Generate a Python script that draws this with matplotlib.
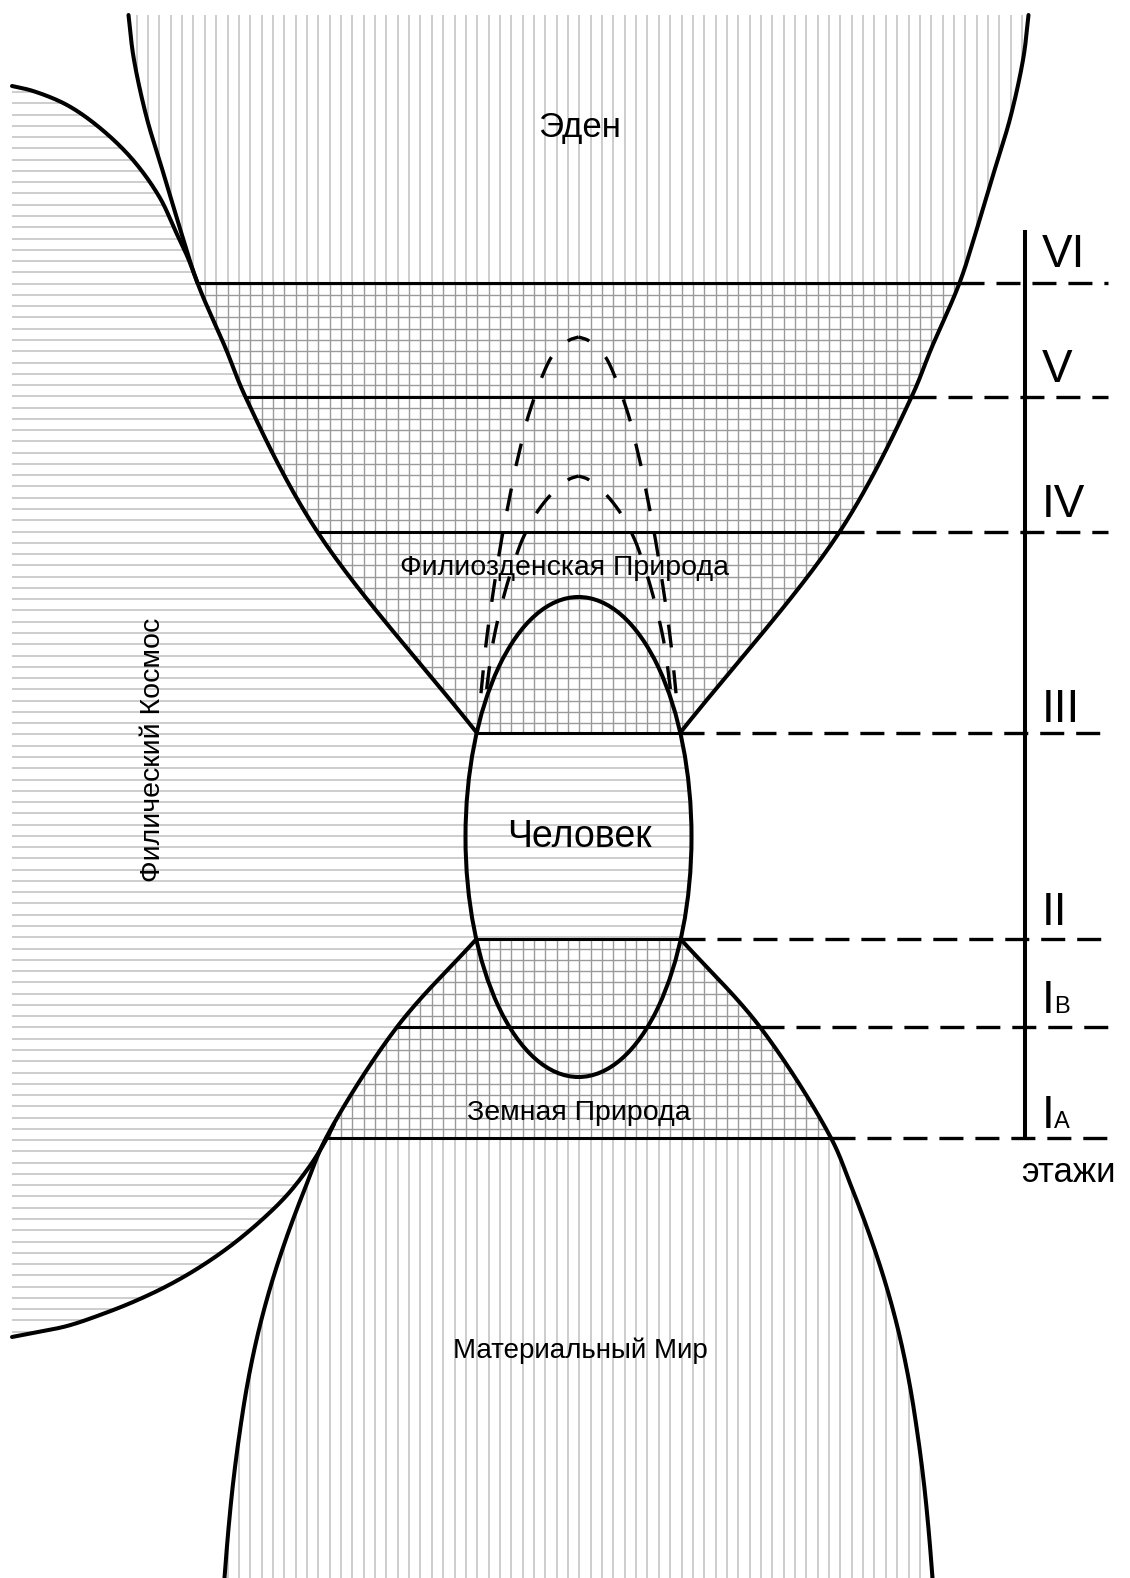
import numpy as np
import matplotlib
matplotlib.use("Agg")
import matplotlib.pyplot as plt
from matplotlib.patches import Polygon, Ellipse
from matplotlib.collections import LineCollection

plt.rcParams['font.family'] = ['Liberation Sans', 'DejaVu Sans']
plt.rcParams['lines.scale_dashes'] = False

W, H = 1130, 1578
CX = 578.5  # ось симметрии схемы

# Эден (верхняя воронка): высота и полуширина от оси
eden_y = [15, 57, 117, 167, 227, 283, 348, 397, 532, 733]
eden_w = [450, 445, 432, 417, 399, 381, 353, 333, 261, 101.5]

# Земная природа + Материальный мир (нижний колокол)
low_y = [939, 1027, 1138, 1183, 1233, 1283, 1333, 1383, 1433, 1483, 1533, 1578]
low_w = [102, 181.5, 252.5, 271.4, 290.4, 306.9, 320.4, 330.9, 338.9, 345.4, 350.4, 354]

# Филический Космос: верхняя и нижняя дуги
cos_top_x = [12, 33, 67, 100, 133, 160, 175, 188, 197.5]
cos_top_y = [86, 91, 105, 128, 160, 198, 230, 258, 283]
cos_bot_x = [12, 33, 67, 100, 133, 167, 200, 233, 265, 288, 307, 319, 327, 334]
cos_bot_y = [1337, 1333, 1326, 1315, 1302, 1286, 1267, 1244, 1217, 1194, 1170, 1152, 1138, 1124]

# Человек (эллипс)
ell_cy, ell_a, ell_b = 837, 113, 240

# пунктирные арки
arch_out_y = [337, 340, 347, 357, 378, 400, 422, 447, 468, 493, 513, 540, 558, 590, 640, 698]
arch_out_h = [0, 9, 18, 27, 37, 45, 52, 58, 63, 68, 72, 77, 80, 85, 92, 98]
arch_in_y = [476, 479, 486, 495, 513, 537, 555, 590, 640, 698]
arch_in_h = [0, 9, 18, 28, 42, 55, 62, 73, 85, 93]

# этажи
level_y = [283, 397, 532, 733, 939, 1027, 1138]
level_names = ['VI', 'V', 'IV', 'III', 'II', 'I', 'I']
level_subs = ['', '', '', '', '', 'B', 'A']
label_base = [267, 382, 517, 722, 925, 1013, 1128]


def spline(px, py, n=30):
    # центростремительный Катмулл-Ром через точки
    p = np.column_stack([px, py]).astype(float)
    p = np.vstack([2 * p[0] - p[1], p, 2 * p[-1] - p[-2]])
    out = []
    for i in range(1, len(p) - 2):
        p0, p1, p2, p3 = p[i - 1], p[i], p[i + 1], p[i + 2]
        t0 = 0.0
        t1 = t0 + np.linalg.norm(p1 - p0) ** 0.5
        t2 = t1 + np.linalg.norm(p2 - p1) ** 0.5
        t3 = t2 + np.linalg.norm(p3 - p2) ** 0.5
        t = np.linspace(t1, t2, n, endpoint=False)[:, None]
        a1 = (t1 - t) / (t1 - t0) * p0 + (t - t0) / (t1 - t0) * p1
        a2 = (t2 - t) / (t2 - t1) * p1 + (t - t1) / (t2 - t1) * p2
        a3 = (t3 - t) / (t3 - t2) * p2 + (t - t2) / (t3 - t2) * p3
        b1 = (t2 - t) / (t2 - t0) * a1 + (t - t0) / (t2 - t0) * a2
        b2 = (t3 - t) / (t3 - t1) * a2 + (t - t1) / (t3 - t1) * a3
        out.append((t2 - t) / (t2 - t1) * b1 + (t - t1) / (t2 - t1) * b2)
    out.append(p[-2][None])
    return np.vstack(out)


def sides(ys, ws):
    left = spline(CX - np.array(ws), ys)
    right = spline(CX + np.array(ws), ys)
    return left, right


def band(left, right, y0, y1):
    m = (left[:, 1] >= y0 - 1e-6) & (left[:, 1] <= y1 + 1e-6)
    return np.vstack([left[m], right[m][::-1]])


def ellipse_side(y0, y1, sign):
    yy = np.linspace(y0, y1, 80)
    xx = CX + sign * ell_a * np.sqrt(np.clip(1 - ((yy - ell_cy) / ell_b) ** 2, 0, 1))
    return np.column_stack([xx, yy])


def hatch(ax, poly, vertical, color, lw):
    patch = Polygon(poly, closed=True, fc='none', ec='none')
    ax.add_patch(patch)
    if vertical:
        segs = [[(x, 0), (x, H)] for x in np.arange(0.5, W, 11.35)]
    else:
        segs = [[(0, y), (W, y)] for y in np.arange(1.87, H, 11.27)]
    lc = LineCollection(segs, colors=color, linewidths=lw, zorder=1)
    ax.add_collection(lc)
    lc.set_clip_path(patch)


fig = plt.figure(figsize=(11.3, 15.78), dpi=100)
ax = fig.add_axes([0, 0, 1, 1])
ax.set_xlim(0, W)
ax.set_ylim(H, 0)
ax.axis('off')

eden_l, eden_r = sides(eden_y, eden_w)
low_l, low_r = sides(low_y, low_w)
top_c = spline(cos_top_x, cos_top_y)
bot_c = spline(cos_bot_x, cos_bot_y)
bot_in = bot_c[bot_c[:, 1] >= 1138]

light, dark = '#c9c9c9', '#9a9a9a'

# штриховка
hatch(ax, band(eden_l, eden_r, 15, 283), True, light, 1.3)
hatch(ax, band(eden_l, eden_r, 283, 733), True, dark, 1.0)
hatch(ax, band(eden_l, eden_r, 283, 733), False, dark, 1.0)
hatch(ax, band(low_l, low_r, 939, 1138), True, dark, 1.0)
hatch(ax, band(low_l, low_r, 939, 1138), False, dark, 1.0)
hatch(ax, band(low_l, low_r, 1138, 1578), True, light, 1.3)

el_mid = np.vstack([ellipse_side(733, 939, -1), ellipse_side(939, 733, 1)])
hatch(ax, el_mid, False, light, 1.3)

m1 = eden_l[:, 1] >= 283
m2 = (low_l[:, 1] >= 939) & (low_l[:, 1] <= 1138)
cosmos = np.vstack([[[12, 1337], [12, 86]], top_c, eden_l[m1],
                    ellipse_side(733, 939, -1), low_l[m2], bot_in[::-1]])
hatch(ax, cosmos, False, light, 1.3)

# контуры
kw = dict(color='black', lw=2.9, solid_capstyle='round', zorder=3)
for c in (eden_l, eden_r, low_l, low_r, top_c, bot_c):
    ax.plot(c[:, 0], c[:, 1], **kw)
ax.add_patch(Ellipse((CX, ell_cy), 2 * ell_a, 2 * ell_b, fc='none', ec='black', lw=2.9, zorder=3))

# этажи
prof_y = np.concatenate([eden_r[:, 1], low_r[:, 1]])
prof_x = np.concatenate([eden_r[:, 0], low_r[:, 0]])
for y in level_y:
    xr = np.interp(y, prof_y, prof_x)
    xl = 2 * CX - xr
    ax.plot([xl, xr], [y, y], color='black', lw=2.2, zorder=3)
    ax.plot([xr, 1108], [y, y], color='black', lw=2.4, zorder=3,
            linestyle=(0, (17.3, 8.6)))
ax.plot([1025, 1025], [232, 1138], color='black', lw=2.9, zorder=3)

for name, sub, yb in zip(level_names, level_subs, label_base):
    ax.text(1042, yb, name, fontsize=33, ha='left', va='baseline', zorder=4)
    if sub:
        ax.text(1054, yb, sub, fontsize=17, ha='left', va='baseline', zorder=4)
ax.text(1068, 1182, 'этажи', fontsize=25, ha='center', va='baseline')

# пунктирные арки
on = 23 * 0.72
for ay, ah in ((arch_out_y, arch_out_h), (arch_in_y, arch_in_h)):
    for s in (-1, 1):
        c = spline(CX + s * np.array(ah), ay)
        ax.plot(c[:, 0], c[:, 1], color='black', lw=2.4, zorder=3,
                linestyle=(on / 2, (on, on)))

# подписи
ax.text(579.5, 137, 'Эден', fontsize=25, ha='center', va='baseline', zorder=4)
ax.text(564, 575, 'Филиозденская Природа', fontsize=20.5, ha='center', va='baseline', zorder=4)
ax.text(579, 847, 'Человек', fontsize=27, ha='center', va='baseline', zorder=4)
ax.text(579, 1120, 'Земная Природа', fontsize=20.5, ha='center', va='baseline', zorder=4)
ax.text(580, 1358, 'Материальный Мир', fontsize=20, ha='center', va='baseline', zorder=4)
ax.text(153, 750, 'Филический Космос', fontsize=20.5, rotation=90, ha='center', va='center', zorder=4)

fig.savefig('out.png', dpi=100, facecolor='white')
